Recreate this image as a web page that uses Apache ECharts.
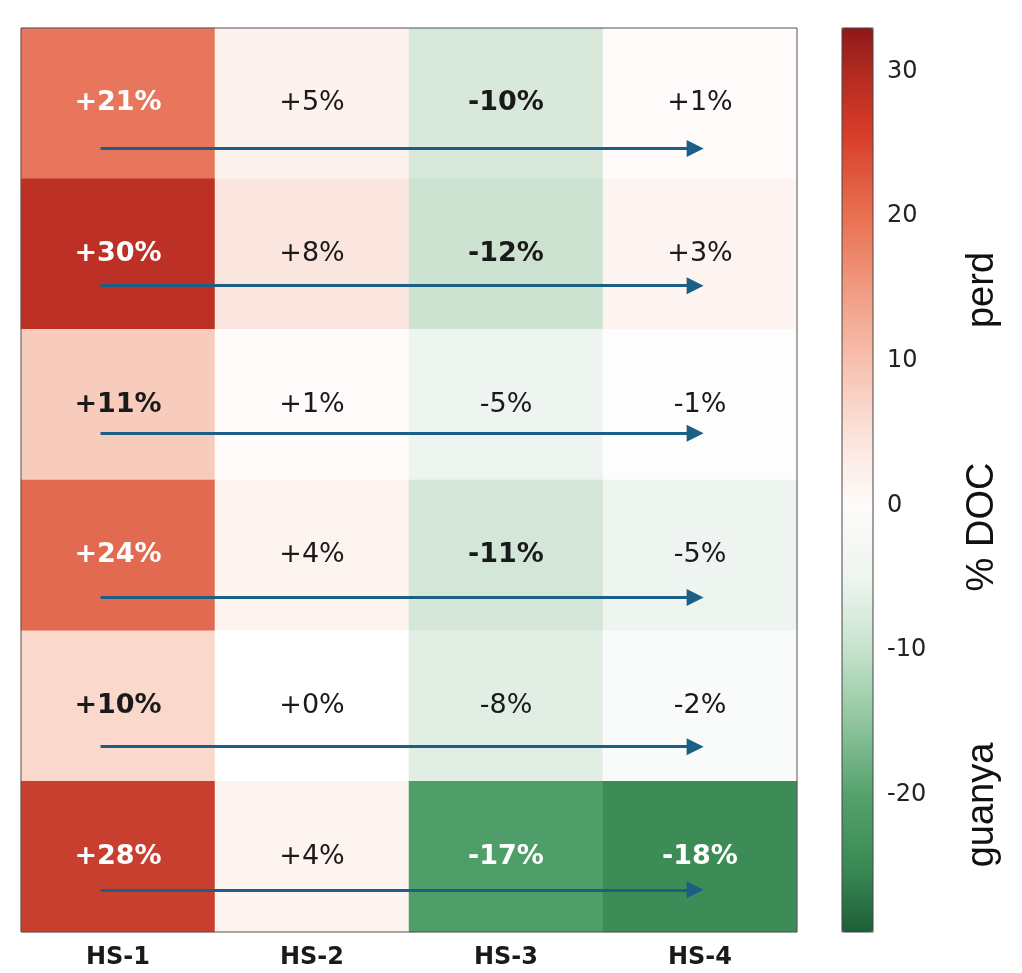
<!DOCTYPE html>
<html>
<head>
<meta charset="utf-8">
<script src="https://cdn.jsdelivr.net/npm/echarts@6/dist/echarts.min.js"></script>
<style>
html,body{margin:0;padding:0;background:#fff;}
#chart{width:1022px;height:973px;}
</style>
</head>
<body>
<div id="chart"></div>
<script>
// ---- data ----
const columns = ['HS-1', 'HS-2', 'HS-3', 'HS-4'];
const rows = ['F1', 'F2', 'F3', 'F4', 'F5', 'F6'];
const row1 = [21, 5, -10, 1];
const row2 = [30, 8, -12, 3];
const row3 = [11, 1, -5, -1];
const row4 = [24, 4, -11, -5];
const row5 = [10, 0, -8, -2];
const row6 = [28, 4, -17, -18];
const rowValues = [row1, row2, row3, row4, row5, row6];
const colorbarTicks = [-20, -10, 0, 10, 20, 30];
const colorbarMin = -29.5;
const colorbarMax = 33;
const sideLabels = ['perd', '% DOC', 'guanya'];

// ---- colour map anchors (style) ----
const cellAnchors = [
  [-29.5, '#195c34'], [-18, '#3d8c58'], [-17, '#4f9e69'], [-14, '#9cc9a8'],
  [-12, '#cde3d2'], [-10, '#d8e9dc'], [-5, '#eef5f0'], [0, '#ffffff'],
  [3, '#fdf3f0'], [5, '#fdf2ee'], [8, '#fbe6df'], [10, '#fad8cb'],
  [11, '#f8ccbc'], [21, '#e8765d'], [24, '#e26a50'], [28, '#c93f2f'],
  [30, '#bd3026'], [33, '#8e1a1a']
];
const barAnchors = [
  [-29.5, '#1d5e38'], [-25, '#3a8a55'], [-20, '#55a16d'], [-15, '#8fc59e'],
  [-10, '#c5e2cc'], [-5, '#eef5ef'], [0, '#fdfbfa'], [5, '#fbe2d9'],
  [10, '#f7c0ae'], [15, '#f09a80'], [20, '#e8704f'], [26, '#d63a28'],
  [30, '#b02a20'], [33, '#8e1818']
];
function hex(c){return [parseInt(c.substr(1,2),16),parseInt(c.substr(3,2),16),parseInt(c.substr(5,2),16)];}
function colorAt(anchors, v){
  for (let i = 0; i < anchors.length - 1; i++) {
    const a = anchors[i], b = anchors[i+1];
    if (v <= b[0]) {
      const t = Math.max(0, Math.min(1, (v - a[0]) / (b[0] - a[0])));
      const ca = hex(a[1]), cb = hex(b[1]);
      const c = ca.map((x, k) => Math.round(x + (cb[k] - x) * t));
      return 'rgb(' + c.join(',') + ')';
    }
  }
  return anchors[anchors.length-1][1];
}
function makeStops(anchors){
  const n = 126, out = [];
  for (let i = 0; i < n; i++) out.push(colorAt(anchors, colorbarMin + (colorbarMax - colorbarMin) * i / (n - 1)));
  return out;
}

// ---- heatmap data ----
const heatData = [];
rowValues.forEach((vals, r) => {
  vals.forEach((v, c) => {
    const strong = Math.abs(v) >= 15;
    heatData.push({
      value: [c, r, v],
      label: {
        color: strong ? '#ffffff' : '#1a1a1a',
        fontWeight: Math.abs(v) >= 10 ? 'bold' : 'normal'
      }
    });
  });
});

// arrows (layout): from just left of HS-1 centre to just right of HS-4 centre
const arrowFrom = 0.41, arrowTo = 3.475;
const arrowRowOffset = [0.80, 0.71, 0.69, 0.78, 0.77, 0.72];
const arrowData = rows.map((_, r) => ({coords: [[arrowFrom, r + arrowRowOffset[r]], [arrowTo, r + arrowRowOffset[r]]]}));

const sideFont = '38px "Liberation Sans", Arial, sans-serif';

const chart = echarts.init(document.getElementById('chart'), null, {renderer: 'canvas'});
chart.setOption({
  backgroundColor: '#ffffff',
  animation: false,
  grid: [
    {left: 21, top: 28, width: 776, height: 904, show: true, borderColor: '#555', borderWidth: 1, backgroundColor: 'transparent', z: 5},
    {left: 842, top: 28, width: 31, height: 904, show: true, borderColor: '#444', borderWidth: 1, backgroundColor: 'transparent', z: 10}
  ],
  xAxis: [
    {type: 'category', data: columns, gridIndex: 0, position: 'bottom',
     axisLine: {show: false}, splitLine: {show: false},
     axisTick: {show: true, alignWithLabel: true, length: 5, lineStyle: {color: '#555'}},
     axisLabel: {margin: 14, fontFamily: 'DejaVu Sans', fontWeight: 'bold', fontSize: 24, color: '#1a1a1a'}},
    {type: 'value', gridIndex: 0, min: 0, max: 4, show: false},
    {type: 'value', gridIndex: 1, min: 0, max: 1, show: false}
  ],
  yAxis: [
    {type: 'category', data: rows, gridIndex: 0, inverse: true, show: false},
    {type: 'value', gridIndex: 0, min: 0, max: 6, inverse: true, show: false},
    {type: 'value', gridIndex: 1, min: colorbarMin, max: colorbarMax, position: 'right',
     axisLine: {show: false}, splitLine: {show: false},
     axisTick: {show: true, length: 5, customValues: colorbarTicks, lineStyle: {color: '#333'}},
     axisLabel: {show: true, margin: 14, customValues: colorbarTicks, fontFamily: 'DejaVu Sans', fontSize: 24, color: '#222'}}
  ],
  visualMap: [
    {type: 'continuous', seriesIndex: 0, min: colorbarMin, max: colorbarMax, show: false,
     inRange: {color: makeStops(cellAnchors)}},
    {type: 'continuous', seriesIndex: 2, min: colorbarMin, max: colorbarMax,
     orient: 'vertical', left: 842, top: 28, itemWidth: 31, itemHeight: 904,
     padding: 0, calculable: false, hoverLink: false, text: null,
     inRange: {color: makeStops(barAnchors)}}
  ],
  graphic: [
    {type: 'text', x: 983, y: 290, rotation: Math.PI / 2, style: {text: sideLabels[0], font: sideFont, fill: '#111', textAlign: 'center', textVerticalAlign: 'middle'}},
    {type: 'text', x: 983, y: 527, rotation: Math.PI / 2, style: {text: sideLabels[1], font: sideFont, fill: '#111', textAlign: 'center', textVerticalAlign: 'middle'}},
    {type: 'text', x: 983, y: 805, rotation: Math.PI / 2, style: {text: sideLabels[2], font: sideFont, fill: '#111', textAlign: 'center', textVerticalAlign: 'middle'}}
  ],
  series: [
    {type: 'heatmap', xAxisIndex: 0, yAxisIndex: 0, data: heatData,
     label: {show: true, fontFamily: 'DejaVu Sans', fontSize: 27,
       formatter: p => (p.value[2] >= 0 ? '+' : '') + p.value[2] + '%'},
     itemStyle: {borderWidth: 0},
     emphasis: {disabled: true}},
    {type: 'lines', coordinateSystem: 'cartesian2d', xAxisIndex: 1, yAxisIndex: 1,
     data: arrowData, symbol: ['none', 'triangle'], symbolSize: 17,
     lineStyle: {color: '#1b5f86', width: 3, opacity: 1}, z: 6, silent: true},
    {type: 'scatter', xAxisIndex: 2, yAxisIndex: 2, data: [], silent: true}
  ]
});
</script>
</body>
</html>
